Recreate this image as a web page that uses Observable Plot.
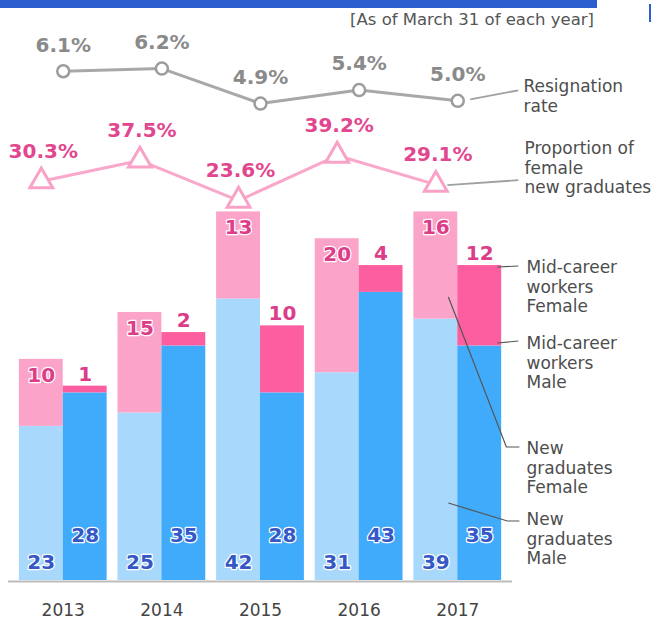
<!DOCTYPE html>
<html><head><meta charset="utf-8">
<script src="https://cdn.jsdelivr.net/npm/d3@7"></script>
<script src="https://cdn.jsdelivr.net/npm/@observablehq/plot@0.6"></script>
<style>
body{margin:0;background:#fff;font-family:"DejaVu Sans",sans-serif;}
#wrap{position:relative;width:657px;height:621px;overflow:hidden;background:#fff;}
.abs{position:absolute;left:0;}
</style></head><body>
<div id="wrap">
 <div style="position:absolute;left:0;top:0;width:597px;height:8px;background:#2d5ecf"></div>
 <div style="position:absolute;left:649px;top:4px;width:2px;height:18px;background:#2d5ecf"></div>
 <div id="note" style="position:absolute;right:63px;top:10px;font-size:16.5px;line-height:20px;color:#555;white-space:nowrap">[As of March 31 of each year]</div>
 <div id="pA" class="abs" style="top:25px"></div>
 <div id="pB" class="abs" style="top:115px"></div>
 <div id="pC" class="abs" style="top:190px"></div>
</div>
<script>
// ---- data ----
const years = ["2013", "2014", "2015", "2016", "2017"];
const resignationRate = [6.1, 6.2, 4.9, 5.4, 5.0];
const femaleNewGradShare = [30.3, 37.5, 23.6, 39.2, 29.1];
const newGradMale = [23, 25, 42, 31, 39];
const newGradFemale = [10, 15, 13, 20, 16];
const midCareerMale = [28, 35, 28, 43, 35];
const midCareerFemale = [1, 2, 10, 4, 12];

// ---- layout ----
const W = 657, ML = 8, MR = 145, PAD = 0.11;
const step = (W - ML - MR) / (years.length - PAD + 2 * PAD);
const bw = step * (1 - PAD);
const xOpt = {type: "band", domain: years, padding: PAD, round: false, axis: null};
const FONT = "DejaVu Sans";
const baseStyle = {fontFamily: FONT, overflow: "visible", background: "transparent"};

function leaderMark(getPaths, stroke, sw) {
  return (index, scales) => {
    let xs = (scales && typeof scales.x === "function") ? scales.x("2017") : NaN;
    if (!isFinite(xs)) xs = ML + PAD * step + 4 * step;
    const g = d3.create("svg:g").attr("fill", "none").attr("stroke", stroke).attr("stroke-width", sw);
    for (const p of getPaths(xs, scales)) g.append("path").attr("d", "M" + p.map(q => q.join(",")).join("L"));
    return g.node();
  };
}
function note(text, dx, dy, lh) {
  return Plot.text([text], {frameAnchor: "top-left", lineAnchor: "middle", dx, dy, textAnchor: "start", lineHeight: lh, fontSize: 17, fill: "#4d4d4d", fontFamily: FONT});
}

// ---- Plot A: resignation rate ----
const rateRows = years.map((year, i) => ({year, v: resignationRate[i]}));
document.getElementById("pA").append(Plot.plot({
  width: W, height: 95, marginLeft: ML, marginRight: MR, marginTop: 0, marginBottom: 0,
  x: xOpt, y: {domain: [4.27, 7.8], axis: null}, style: baseStyle,
  marks: [
    Plot.line(rateRows, {x: "year", y: "v", stroke: "#a8a8a8", strokeWidth: 3}),
    Plot.dot(rateRows, {x: "year", y: "v", r: 6, fill: "#fff", stroke: "#9c9c9c", strokeWidth: 2.5}),
    Plot.text(rateRows, {x: "year", y: "v", text: d => d.v.toFixed(1) + "%", dy: -26, fill: "#8a8a8a", fontSize: 20, fontWeight: "bold", fontFamily: FONT}),
    leaderMark((xs, s) => {
      const cx = xs + bw / 2;
      const cy = (s && typeof s.y === "function") ? s.y(resignationRate[4]) : 78;
      return [[[cx + 13, cy - 1], [cx + 61, cy - 10]]];
    }, "#a0a0a0", 1.8),
    note("Resignation\nrate", 515, 70, 1.18)
  ]
}));

// ---- Plot B: proportion of female new graduates ----
const shareRows = years.map((year, i) => ({year, v: femaleNewGradShare[i]}));
document.getElementById("pB").append(Plot.plot({
  width: W, height: 100, marginLeft: ML, marginRight: MR, marginTop: 0, marginBottom: 0,
  x: xOpt, y: {domain: [18.41, 53.07], axis: null}, style: baseStyle,
  marks: [
    Plot.line(shareRows, {x: "year", y: "v", dx: -bw / 4, stroke: "#f9a8cb", strokeWidth: 3}),
    Plot.dot(shareRows, {x: "year", y: "v", dx: -bw / 4, symbol: "triangle", r: 8.5, fill: "#fff", stroke: "#f9a2c7", strokeWidth: 3}),
    Plot.text(shareRows, {x: "year", y: "v", dx: -bw / 4 + 2, dy: -30, text: d => d.v.toFixed(1) + "%", fill: "#e2468e", fontSize: 20, fontWeight: "bold", fontFamily: FONT}),
    leaderMark((xs, s) => {
      const tx = xs + bw / 4;
      const ty = (s && typeof s.y === "function") ? s.y(femaleNewGradShare[4]) : 70;
      return [[[tx + 12, ty + 1], [tx + 83, ty - 4]]];
    }, "#a0a0a0", 1.8),
    note("Proportion of\nfemale\nnew graduates", 516, 51.7, 1.16)
  ]
}));

// ---- Plot C: hires (stacked bars) ----
const ngRows = years.flatMap((year, i) => [
  {year, key: "ng-Male", v: newGradMale[i]},
  {year, key: "ng-Female", v: newGradFemale[i]}
]);
const mcRows = years.flatMap((year, i) => [
  {year, key: "mc-Male", v: midCareerMale[i]},
  {year, key: "mc-Female", v: midCareerFemale[i]}
]);
const totals = years.map((year, i) => ({
  year,
  ngM: newGradMale[i], ngF: newGradFemale[i], ngT: newGradMale[i] + newGradFemale[i],
  mcM: midCareerMale[i], mcF: midCareerFemale[i], mcT: midCareerMale[i] + midCareerFemale[i]
}));
const magenta = "#dc3d89", blueText = "#3558c6";
document.getElementById("pC").append(Plot.plot({
  width: W, height: 431, marginLeft: ML, marginRight: MR, marginTop: 0, marginBottom: 41,
  x: xOpt, y: {domain: [0, 58.2], axis: null},
  color: {domain: ["ng-Male", "ng-Female", "mc-Male", "mc-Female"], range: ["#a8d8fc", "#fca3c9", "#41abfb", "#fd5e9f"]},
  style: baseStyle,
  marks: [
    Plot.ruleY([0], {stroke: "#bdbdbd", strokeWidth: 2, dy: 1}),
    Plot.barY(ngRows, {x: "year", y: "v", z: "key", fill: "key", insetRight: bw / 2}),
    Plot.barY(mcRows, {x: "year", y: "v", z: "key", fill: "key", insetLeft: bw / 2}),
    Plot.text(totals, {x: "year", y: "ngT", text: "ngF", dx: -bw / 4, dy: 16, fill: magenta, stroke: "#fff", strokeWidth: 2.5, fontSize: 20, fontWeight: "bold", fontFamily: FONT}),
    Plot.text(totals, {x: "year", y: "mcT", text: "mcF", dx: bw / 4, dy: -12, fill: magenta, stroke: "#fff", strokeWidth: 2.5, fontSize: 20, fontWeight: "bold", fontFamily: FONT}),
    Plot.text(totals, {x: "year", y: () => 0, text: "ngM", dx: -bw / 4, dy: -18, fill: blueText, stroke: "#fff", strokeWidth: 2.5, fontSize: 20, fontWeight: "bold", fontFamily: FONT}),
    Plot.text(totals, {x: "year", y: () => 0, text: "mcM", dx: bw / 4, dy: -45, fill: blueText, stroke: "#fff", strokeWidth: 2.5, fontSize: 20, fontWeight: "bold", fontFamily: FONT}),
    Plot.text(years, {x: d => d, frameAnchor: "bottom", lineAnchor: "middle", dy: 30, fontSize: 17, fill: "#444", fontFamily: FONT}),
    leaderMark(xs => [
      [[xs + 84, 77], [xs + 105, 76]],
      [[xs + 84, 153], [xs + 105, 151]]
    ], "#555", 1.2),
    leaderMark(xs => [
      [[xs + 35, 107], [xs + 93, 257], [xs + 106, 257]],
      [[xs + 35, 313], [xs + 94, 331], [xs + 106, 331]]
    ], "#555", 1.2),
    note("Mid-career\nworkers\nFemale", 518, 96, 1.13),
    note("Mid-career\nworkers\nMale", 518, 172, 1.13),
    note("New\ngraduates\nFemale", 518, 277, 1.15),
    note("New\ngraduates\nMale", 518, 348, 1.15)
  ]
}));
</script>
</body></html>
